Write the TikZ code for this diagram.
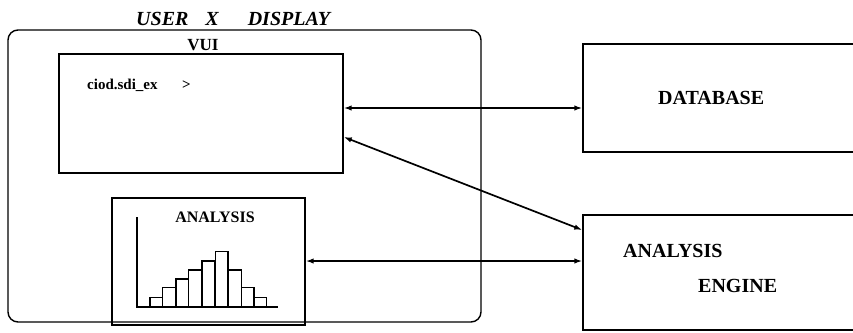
\documentclass[tikz,border=0pt]{standalone}
\usepackage{fontspec}
\setmainfont{Liberation Serif}
\usetikzlibrary{arrows.meta,calc}
\begin{document}
\begin{tikzpicture}[x=1pt,y=-1pt,
  box/.style={draw,line width=1.4pt,inner sep=0pt,minimum width=#1},
  conn/.style={line width=1.7pt,{Latex[length=8pt,width=5.5pt]}-{Latex[length=8pt,width=5.5pt]}},
  lbl/.style={font=\bfseries,anchor=base west,inner sep=0pt},
  bar/.style={draw,line width=1.2pt}]
\useasboundingbox (0,0) rectangle (853,332);
\clip (0,0) rectangle (853,332);
% outer display
\node[box=473pt,minimum height=292pt,rounded corners=10pt] (user) at (244.5,176) {};
\node[lbl,font=\bfseries\itshape\fontsize{20}{20}\selectfont] (title) at (136,25) {USER\hspace{17pt}X\hspace{29pt}DISPLAY};
% VUI
\node[box=284pt,minimum height=119pt] (vui) at (201,113.5) {};
\node[font=\bfseries\fontsize{17}{17}\selectfont,anchor=base,inner sep=0pt] (vuil) at (203,50) {VUI};
\node[lbl,font=\bfseries\fontsize{15}{15}\selectfont] (cmd) at (87,89) {ciod.sdi\_ex};
\node[lbl,font=\bfseries\fontsize{15}{15}\selectfont] (prompt) at (182,89) {>};
% analysis window
\node[box=193pt,minimum height=127pt] (anbox) at (208.5,261.5) {};
\node[font=\bfseries\fontsize{16}{16}\selectfont,anchor=base,inner sep=0pt] (anl) at (215,222) {ANALYSIS};
\draw[line width=1.2pt] (137,217) -- (137,307) -- (278,307);
\foreach \xa/\h in {150/297.3,162.7/287.7,176/279,188.7/270,202/261,215.3/251.7,228.7/270,241.3/287.7,254/297.3}{
  \draw[bar] (\xa,307) rectangle ({\xa+12.7},\h);
}
% right boxes
\node[box=287pt,minimum height=108pt] (db) at (726.5,98) {};
\node[lbl,font=\bfseries\fontsize{20}{20}\selectfont] (dbl) at (658,104) {DATABASE};
\node[box=287pt,minimum height=115pt] (eng) at (726.5,272.5) {};
\node[lbl,font=\bfseries\fontsize{20}{20}\selectfont] (engl1) at (623,257) {ANALYSIS};
\node[lbl,font=\bfseries\fontsize{20}{20}\selectfont] (engl2) at (698,292) {ENGINE};
% connectors
\coordinate (dbline) at (0,108);
\coordinate (dstart) at (0,137);
\coordinate (dend) at (0,230);
\coordinate (anline) at (0,261);
\draw[conn] (vui.east |- dbline) -- (db.west |- dbline);
\draw[conn] (vui.east |- dstart) -- (eng.west |- dend);
\draw[conn] (anbox.east |- anline) -- (eng.west |- anline);
\end{tikzpicture}
\end{document}
